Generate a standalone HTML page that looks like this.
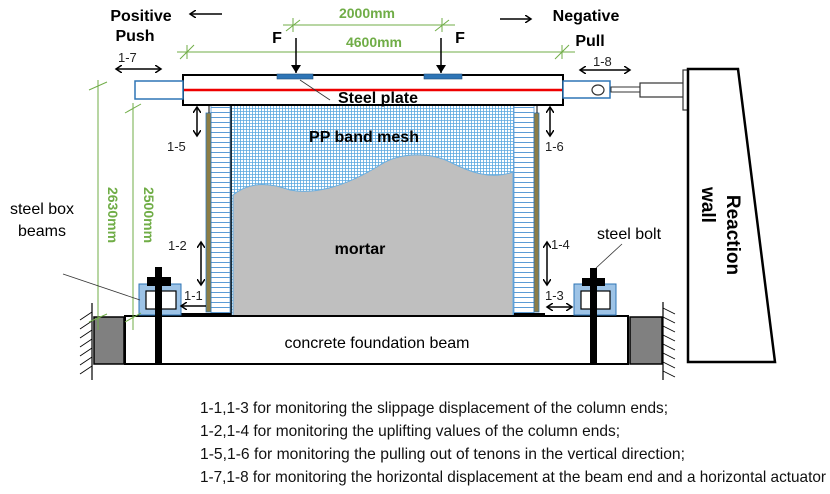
<!DOCTYPE html>
<html><head><meta charset="utf-8"><style>
html,body{margin:0;padding:0;background:#fff}
svg{display:block;font-family:"Liberation Sans",Arial,sans-serif}
</style></head><body>
<svg width="830" height="494" viewBox="0 0 830 494" xmlns="http://www.w3.org/2000/svg">
<defs>
<pattern id="mesh" width="3" height="3" patternUnits="userSpaceOnUse">
<rect width="3" height="3" fill="#fff"/>
<path d="M0 0.5H3M0.5 0V3" stroke="#5aa8e0" stroke-width="0.8"/>
</pattern>
<pattern id="stripe" width="20" height="5" patternUnits="userSpaceOnUse">
<rect width="20" height="5" fill="#fff"/>
<path d="M0 2.5H20" stroke="#5b9bd5" stroke-width="1"/>
</pattern>
<marker id="ah" markerWidth="8" markerHeight="8" refX="6" refY="4" orient="auto-start-reverse" markerUnits="userSpaceOnUse">
<path d="M0 0L6 4L0 8" fill="none" stroke="#000" stroke-width="1.5"/>
</marker>
<marker id="af" markerWidth="10" markerHeight="10" refX="8" refY="5" orient="auto" markerUnits="userSpaceOnUse">
<path d="M0 0L8 5L0 10Z" fill="#000"/>
</marker>
</defs>

<rect x="231" y="105" width="283" height="211" fill="url(#mesh)"/>
<path d="M233 195 C245 185,262 180,290 190 C310 194,340 190,380 165 C400 152,430 152,450 162 C470 172,490 180,513 172 L513 316 L233 316Z" fill="#bfbfbf" stroke="#6aaee0" stroke-width="1"/>
<line x1="231" y1="105" x2="231" y2="316" stroke="#000" stroke-width="1.5"/>
<line x1="514" y1="105" x2="514" y2="316" stroke="#2e75b6" stroke-width="1"/>

<rect x="211" y="105" width="19" height="209" fill="url(#stripe)" stroke="#5b9bd5" stroke-width="0.8"/>
<rect x="206" y="113" width="5" height="199" fill="#8c7d45" stroke="#2e75b6" stroke-width="0.8"/>
<rect x="514" y="105" width="20" height="209" fill="url(#stripe)" stroke="#5b9bd5" stroke-width="0.8"/>
<rect x="534" y="113" width="5" height="199" fill="#8c7d45" stroke="#2e75b6" stroke-width="0.8"/>
<line x1="209" y1="105" x2="209" y2="113" stroke="#000"/>
<line x1="537" y1="105" x2="537" y2="113" stroke="#000"/>

<rect x="183" y="75" width="380" height="30" fill="#fff" stroke="#000" stroke-width="2"/>
<line x1="184" y1="90" x2="562" y2="90" stroke="#e00" stroke-width="2.5"/>
<rect x="277" y="74" width="36" height="5" fill="#2e75b6" stroke="#1f4e79" stroke-width="0.6"/>
<rect x="424" y="74" width="38" height="5" fill="#2e75b6" stroke="#1f4e79" stroke-width="0.6"/>
<rect x="135" y="81" width="48" height="18" fill="#fff" stroke="#2e75b6" stroke-width="1.5"/>
<rect x="563" y="81" width="47" height="17" fill="#fff" stroke="#2e75b6" stroke-width="1.5"/>
<ellipse cx="598" cy="90" rx="6" ry="5" fill="#fff" stroke="#333" stroke-width="1.2"/>
<rect x="611" y="87" width="29" height="5" fill="#fff" stroke="#333" stroke-width="1"/>
<rect x="640" y="83" width="44" height="14" fill="#fff" stroke="#333" stroke-width="1.2"/>
<rect x="683" y="70" width="5" height="40" fill="#fff" stroke="#333" stroke-width="1.2"/>
<path d="M688 69 L738 69 L775 362 L688 362Z" fill="#fff" stroke="#000" stroke-width="2.5"/>
<text transform="translate(727,235) rotate(90)" font-size="19" font-weight="bold" text-anchor="middle">Reaction</text>
<text transform="translate(702,205) rotate(90)" font-size="19" font-weight="bold" text-anchor="middle">wall</text>

<rect x="125" y="316" width="503" height="48" fill="#fff" stroke="#000" stroke-width="2"/>
<rect x="94" y="317" width="30" height="47" fill="#808080" stroke="#000" stroke-width="1.5"/>
<rect x="630" y="317" width="32" height="47" fill="#808080" stroke="#000" stroke-width="1.5"/>
<line x1="92" y1="303" x2="92" y2="380" stroke="#000" stroke-width="1.2"/>
<line x1="663" y1="302" x2="663" y2="380" stroke="#000" stroke-width="1.2"/>
<g stroke="#000" stroke-width="0.8">
<path d="M92 312l-12 8M92 321l-12 8M92 330l-12 8M92 339l-12 8M92 348l-12 8M92 357l-12 8M92 366l-12 8"/>
<path d="M663 308l12 6M663 317l12 6M663 326l12 6M663 335l12 6M663 344l12 6M663 353l12 6M663 362l12 6M663 371l12 6"/>
</g>
<rect x="178" y="313" width="53" height="4" fill="#000"/>
<rect x="514" y="313" width="31" height="4" fill="#000"/>
<text x="377" y="348" font-size="16" text-anchor="middle">concrete foundation beam</text>

<rect x="139" y="284" width="42" height="31" fill="#9dc3e6" stroke="#2e75b6" stroke-width="1"/>
<rect x="146" y="291" width="30" height="18" fill="#fff" stroke="#000" stroke-width="1.2"/>
<rect x="574" y="284" width="42" height="31" fill="#9dc3e6" stroke="#2e75b6" stroke-width="1"/>
<rect x="581" y="291" width="29" height="18" fill="#fff" stroke="#000" stroke-width="1.2"/>
<rect x="155" y="267" width="7" height="97" fill="#000"/>
<rect x="147" y="277" width="24" height="9" fill="#000"/>
<rect x="590" y="268" width="7" height="96" fill="#000"/>
<rect x="582" y="278" width="23" height="8" fill="#000"/>

<g stroke="#70ad47" stroke-width="1" fill="none">
<line x1="283" y1="25" x2="455" y2="25"/>
<line x1="293" y1="18" x2="293" y2="32"/><line x1="286" y1="31" x2="300" y2="20"/>
<line x1="442" y1="18" x2="442" y2="32"/><line x1="435" y1="31" x2="449" y2="20"/>
<line x1="177" y1="52" x2="575" y2="52"/>
<line x1="187" y1="45" x2="187" y2="59"/><line x1="180" y1="59" x2="194" y2="45"/>
<line x1="562" y1="45" x2="562" y2="59"/><line x1="555" y1="59" x2="569" y2="45"/>
<line x1="98" y1="80" x2="98" y2="330"/><line x1="89" y1="90" x2="107" y2="82"/><line x1="89" y1="322" x2="107" y2="314"/>
<line x1="133" y1="103" x2="133" y2="330"/><line x1="125" y1="113" x2="141" y2="104"/><line x1="125" y1="322" x2="141" y2="313"/>
</g>
<text x="367" y="18" font-size="14" font-weight="bold" fill="#70ad47" text-anchor="middle">2000mm</text>
<text x="374" y="47" font-size="14" font-weight="bold" fill="#70ad47" text-anchor="middle">4600mm</text>
<text transform="translate(108,215) rotate(90)" font-size="14" font-weight="bold" fill="#70ad47" text-anchor="middle">2630mm</text>
<text transform="translate(144,215) rotate(90)" font-size="14" font-weight="bold" fill="#70ad47" text-anchor="middle">2500mm</text>

<text x="277" y="43" font-size="16" font-weight="bold" text-anchor="middle">F</text>
<text x="460" y="43" font-size="16" font-weight="bold" text-anchor="middle">F</text>
<line x1="296" y1="38" x2="296" y2="73" stroke="#000" stroke-width="1.5" marker-end="url(#af)"/>
<line x1="441" y1="38" x2="441" y2="73" stroke="#000" stroke-width="1.5" marker-end="url(#af)"/>

<text x="141" y="21" font-size="16" font-weight="bold" text-anchor="middle">Positive</text>
<text x="135" y="41" font-size="16" font-weight="bold" text-anchor="middle">Push</text>
<text x="586" y="21" font-size="16" font-weight="bold" text-anchor="middle">Negative</text>
<text x="590" y="46" font-size="16" font-weight="bold" text-anchor="middle">Pull</text>
<line x1="222" y1="14" x2="190" y2="14" stroke="#000" stroke-width="1.5" marker-end="url(#ah)"/>
<line x1="500" y1="19" x2="531" y2="19" stroke="#000" stroke-width="1.5" marker-end="url(#ah)"/>

<g font-size="13" fill="#222">
<text x="118" y="62">1-7</text>
<text x="593" y="66">1-8</text>
<text x="167" y="151">1-5</text>
<text x="545" y="151">1-6</text>
<text x="168" y="250">1-2</text>
<text x="551" y="249">1-4</text>
<text x="184" y="300">1-1</text>
<text x="545" y="300">1-3</text>
</g>
<g stroke="#000" stroke-width="1.5" marker-start="url(#ah)" marker-end="url(#ah)">
<line x1="116" y1="69" x2="161" y2="69"/>
<line x1="580" y1="70" x2="630" y2="70"/>
<line x1="197" y1="107" x2="197" y2="136"/>
<line x1="550" y1="107" x2="550" y2="136"/>
<line x1="201" y1="242" x2="201" y2="285"/>
<line x1="547" y1="242" x2="547" y2="285"/>
<line x1="547" y1="307" x2="572" y2="307"/>
</g>
<line x1="206" y1="306" x2="181" y2="306" stroke="#000" stroke-width="1.5" marker-end="url(#ah)"/>

<line x1="300" y1="80" x2="330" y2="100" stroke="#333" stroke-width="0.8"/>
<text x="378" y="103" font-size="16" font-weight="bold" text-anchor="middle">Steel plate</text>
<text x="364" y="142" font-size="16" font-weight="bold" text-anchor="middle">PP band mesh</text>
<text x="360" y="254" font-size="16" font-weight="bold" text-anchor="middle">mortar</text>
<text x="42" y="214" font-size="16" text-anchor="middle">steel box</text>
<text x="42" y="236" font-size="16" text-anchor="middle">beams</text>
<line x1="63" y1="274" x2="140" y2="300" stroke="#333" stroke-width="0.8"/>
<text x="629" y="239" font-size="16" text-anchor="middle">steel bolt</text>
<line x1="622" y1="244" x2="596" y2="268" stroke="#333" stroke-width="0.8"/>

<g font-size="16" fill="#111">
<text x="200" y="413" textLength="468" lengthAdjust="spacingAndGlyphs">1-1,1-3 for monitoring the slippage displacement of the column ends;</text>
<text x="200" y="436" textLength="420" lengthAdjust="spacingAndGlyphs">1-2,1-4 for monitoring the uplifting values of the column ends;</text>
<text x="200" y="459" textLength="485" lengthAdjust="spacingAndGlyphs">1-5,1-6 for monitoring the pulling out of tenons in the vertical direction;</text>
<text x="200" y="482" textLength="626" lengthAdjust="spacingAndGlyphs">1-7,1-8 for monitoring the horizontal displacement at the beam end and a horizontal actuator</text>
</g>
</svg>
</body></html>
